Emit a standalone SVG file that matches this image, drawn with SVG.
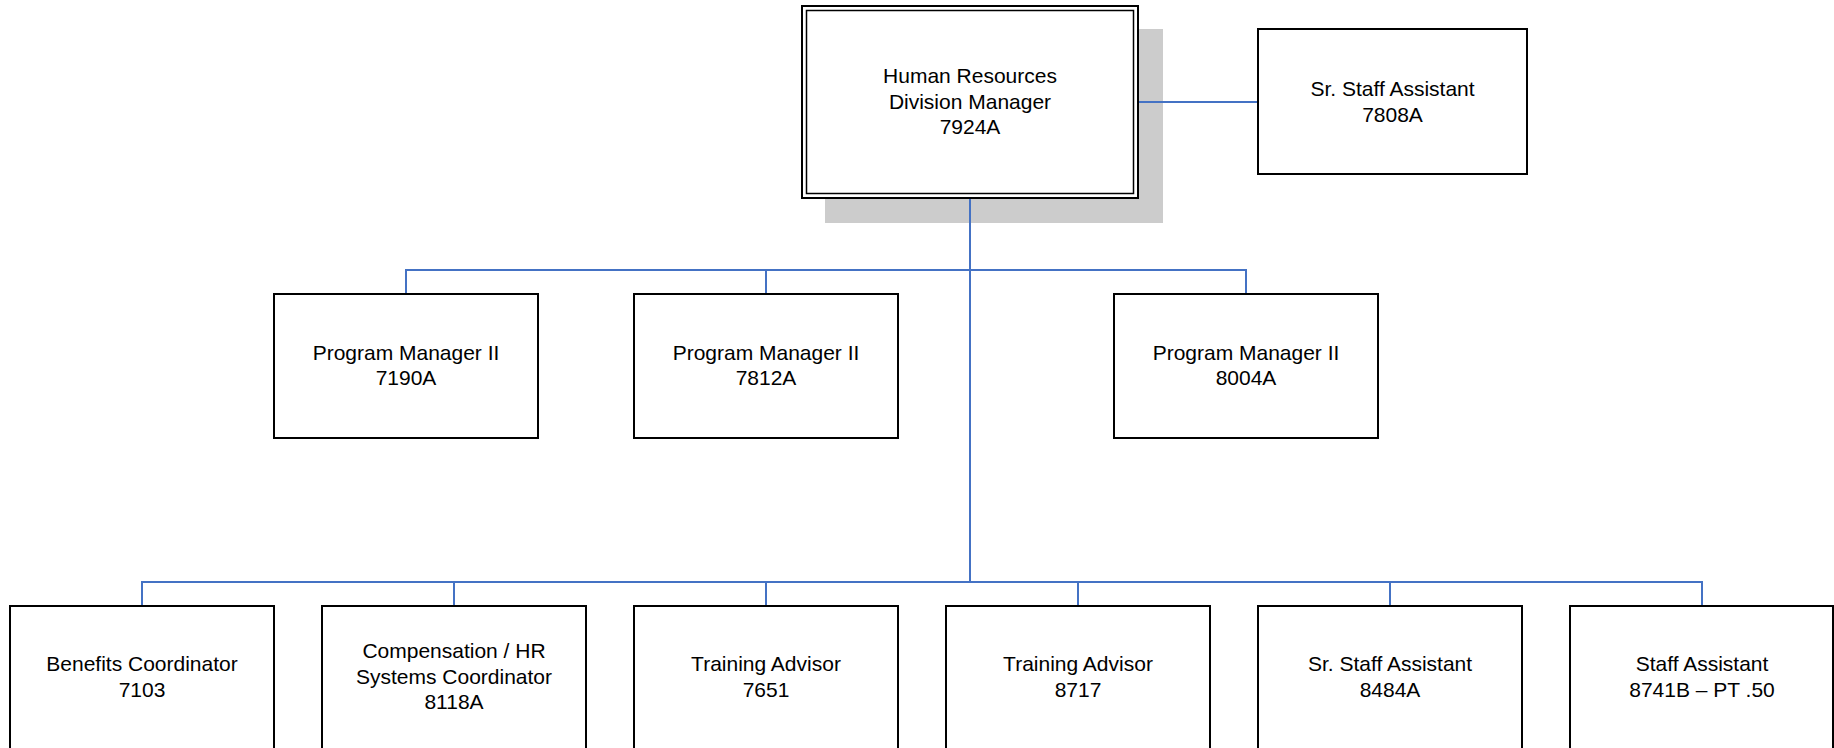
<svg xmlns="http://www.w3.org/2000/svg" width="1834" height="748" viewBox="0 0 1834 748">
<style>
.box{fill:#fff;stroke:#000;stroke-width:2}
.t{font-family:"Liberation Sans",Arial,sans-serif;font-size:21px;fill:#000;text-anchor:middle}
.c{fill:none;stroke:#4472C4;stroke-width:2}
</style>
<rect x="0" y="0" width="1834" height="748" fill="#fff"/>
<g id="hr-division-manager">
<rect x="825" y="29" width="338" height="194" fill="#cccccc"/>
<rect x="802" y="6" width="336" height="192" fill="#fff" stroke="#000" stroke-width="2"/>
<rect x="806.5" y="10.5" width="327" height="183" fill="none" stroke="#000" stroke-width="1.5"/>
<text class="t" x="970" y="83">Human Resources</text>
<text class="t" x="970" y="108.5">Division Manager</text>
<text class="t" x="970" y="133.5">7924A</text>
</g>
<g id="sr-staff-assistant-7808a">
<rect class="box" x="1258" y="29" width="269" height="145"/>
<text class="t" x="1392.5" y="96">Sr. Staff Assistant</text>
<text class="t" x="1392.5" y="121.5">7808A</text>
</g>
<g id="pm-7190a">
<rect class="box" x="274" y="294" width="264" height="144"/>
<text class="t" x="406" y="360">Program Manager II</text>
<text class="t" x="406" y="385">7190A</text>
</g>
<g id="pm-7812a">
<rect class="box" x="634" y="294" width="264" height="144"/>
<text class="t" x="766" y="360">Program Manager II</text>
<text class="t" x="766" y="385">7812A</text>
</g>
<g id="pm-8004a">
<rect class="box" x="1114" y="294" width="264" height="144"/>
<text class="t" x="1246" y="360">Program Manager II</text>
<text class="t" x="1246" y="385">8004A</text>
</g>
<g id="benefits-7103">
<rect class="box" x="10" y="606" width="264" height="144"/>
<text class="t" x="142" y="671">Benefits Coordinator</text>
<text class="t" x="142" y="696.5">7103</text>
</g>
<g id="compensation-8118a">
<rect class="box" x="322" y="606" width="264" height="144"/>
<text class="t" x="454" y="658">Compensation / HR</text>
<text class="t" x="454" y="683.5">Systems Coordinator</text>
<text class="t" x="454" y="709">8118A</text>
</g>
<g id="training-7651">
<rect class="box" x="634" y="606" width="264" height="144"/>
<text class="t" x="766" y="671">Training Advisor</text>
<text class="t" x="766" y="696.5">7651</text>
</g>
<g id="training-8717">
<rect class="box" x="946" y="606" width="264" height="144"/>
<text class="t" x="1078" y="671">Training Advisor</text>
<text class="t" x="1078" y="696.5">8717</text>
</g>
<g id="sr-staff-assistant-8484a">
<rect class="box" x="1258" y="606" width="264" height="144"/>
<text class="t" x="1390" y="671">Sr. Staff Assistant</text>
<text class="t" x="1390" y="696.5">8484A</text>
</g>
<g id="staff-assistant-8741b">
<rect class="box" x="1570" y="606" width="263" height="144"/>
<text class="t" x="1702" y="671">Staff Assistant</text>
<text class="t" x="1702" y="696.5">8741B – PT .50</text>
</g>
<g id="connectors">
<path class="c" d="M970 199V582"/>
<path class="c" d="M1139 102H1257"/>
<path class="c" d="M406 293V270H1246V293M766 270V293"/>
<path class="c" d="M142 605V582H1702V605M454 582V605M766 582V605M1078 582V605M1390 582V605"/>
</g>
</svg>
